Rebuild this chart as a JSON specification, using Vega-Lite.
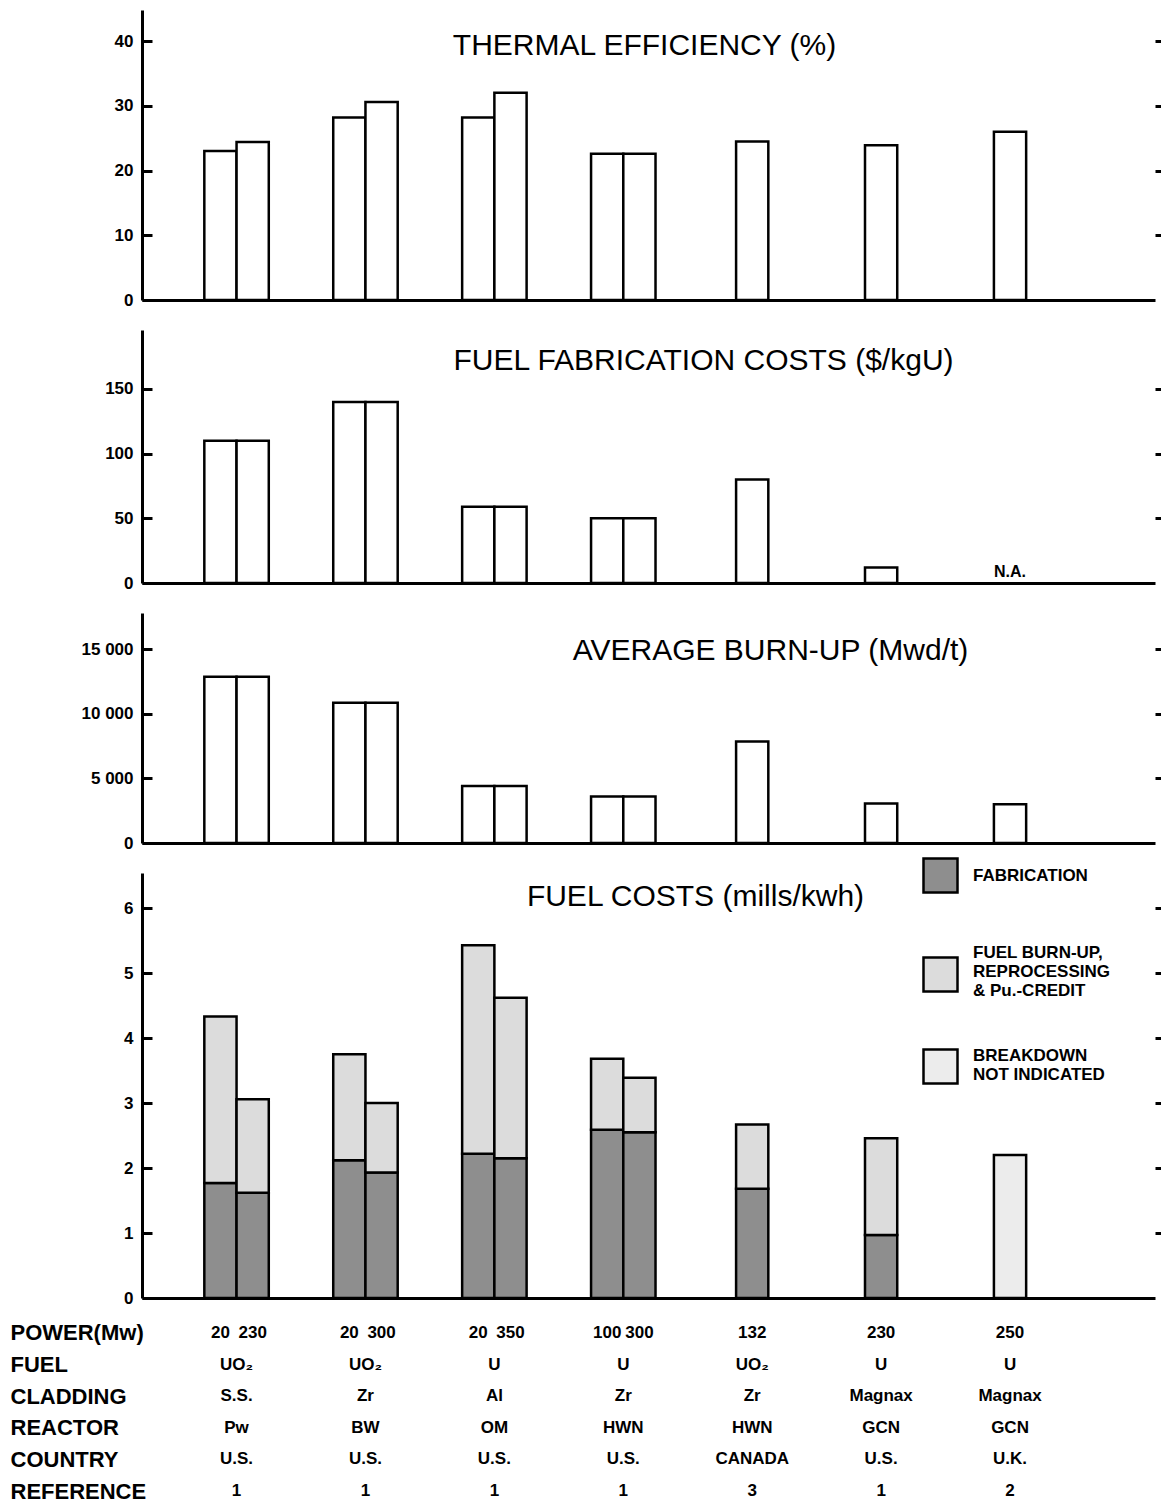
{
  "$schema": "https://vega.github.io/schema/vega-lite/v6.json",
  "padding": {"left": 5, "top": 10, "right": 0, "bottom": 0},
  "background": "white",
  "spacing": 30,
  "bounds": "flush",
  "resolve": {"legend": {"fill": "independent"}},
  "config": {
    "view": {"stroke": null},
    "font": "Liberation Sans",
    "title": {"font": "Liberation Sans", "fontSize": 30, "fontWeight": "normal", "color": "black", "baseline": "middle", "frame": "group", "anchor": "middle"},
    "axisY": {"grid": false}
  },
  "vconcat": [
    {
      "width": 1013,
      "height": 290,
      "title": {"text": "THERMAL EFFICIENCY (%)", "offset": -51, "dx": -4},
      "data": {"values": [
        {"g": "G1", "s": "L", "v": 23.0}, {"g": "G1", "s": "R", "v": 24.4},
        {"g": "G2", "s": "L", "v": 28.2}, {"g": "G2", "s": "R", "v": 30.6},
        {"g": "G3", "s": "L", "v": 28.2}, {"g": "G3", "s": "R", "v": 32.0},
        {"g": "G4", "s": "L", "v": 22.6}, {"g": "G4", "s": "R", "v": 22.6},
        {"g": "G5", "s": "C", "v": 24.5}, {"g": "G6", "s": "C", "v": 23.9}, {"g": "G7", "s": "C", "v": 26.0}
      ]},
      "layer": [
        {
          "transform": [{"filter": "datum.s != 'C'"}],
          "mark": {"type": "bar", "fill": "white", "stroke": "black", "strokeWidth": 2.5},
          "encoding": {
            "x": {"field": "g", "type": "nominal", "scale": {"domain": ["G1","G2","G3","G4","G5","G6","G7"], "paddingInner": 0.5, "paddingOuter": 0.679, "align": 0.356}, "axis": {"domain": true, "domainWidth": 3, "domainColor": "black", "ticks": false, "labels": false, "title": null, "grid": false}},
            "xOffset": {"field": "s", "type": "nominal", "scale": {"domain": ["L","R"], "paddingInner": 0, "paddingOuter": 0}},
            "y": {"field": "v", "type": "quantitative", "scale": {"domain": [0, 44.8], "nice": false}, "axis": {"orient": "left", "values": [0,10,20,30,40], "title": null, "domainWidth": 3, "domainColor": "black", "tickColor": "black", "tickWidth": 3, "tickSize": -10, "labelPadding": 19, "labelFont": "Liberation Sans", "labelFontWeight": "bold", "labelFontSize": 17, "labelColor": "black", "minExtent": 137, "maxExtent": 137}}
          }
        },
        {
          "transform": [{"filter": "datum.s == 'C'"}],
          "mark": {"type": "bar", "fill": "white", "stroke": "black", "strokeWidth": 2.5, "width": {"band": 0.5}},
          "encoding": {
            "x": {"field": "g", "type": "nominal"},
            "y": {"field": "v", "type": "quantitative", "axis": {"orient": "right", "values": [10,20,30,40], "title": null, "domain": false, "labels": false, "tickColor": "black", "tickWidth": 3, "tickSize": 6}}
          }
        }
      ],
      "resolve": {"axis": {"y": "independent"}}
    },
    {
      "width": 1013,
      "height": 253,
      "title": {"text": "FUEL FABRICATION COSTS ($/kgU)", "offset": -46, "dx": 55},
      "layer": [
        {
          "data": {"values": [
            {"g": "G1", "s": "L", "v": 110}, {"g": "G1", "s": "R", "v": 110},
            {"g": "G2", "s": "L", "v": 140}, {"g": "G2", "s": "R", "v": 140},
            {"g": "G3", "s": "L", "v": 59}, {"g": "G3", "s": "R", "v": 59},
            {"g": "G4", "s": "L", "v": 50}, {"g": "G4", "s": "R", "v": 50}
          ]},
          "mark": {"type": "bar", "fill": "white", "stroke": "black", "strokeWidth": 2.5},
          "encoding": {
            "x": {"field": "g", "type": "nominal", "scale": {"domain": ["G1","G2","G3","G4","G5","G6","G7"], "paddingInner": 0.5, "paddingOuter": 0.679, "align": 0.356}, "axis": {"domain": true, "domainWidth": 3, "domainColor": "black", "ticks": false, "labels": false, "title": null, "grid": false}},
            "xOffset": {"field": "s", "type": "nominal", "scale": {"domain": ["L","R"], "paddingInner": 0, "paddingOuter": 0}},
            "y": {"field": "v", "type": "quantitative", "scale": {"domain": [0, 195.6], "nice": false}, "axis": {"orient": "left", "values": [0,50,100,150], "title": null, "domainWidth": 3, "domainColor": "black", "tickColor": "black", "tickWidth": 3, "tickSize": -10, "labelPadding": 19, "labelFont": "Liberation Sans", "labelFontWeight": "bold", "labelFontSize": 17, "labelColor": "black", "minExtent": 137, "maxExtent": 137}}
          }
        },
        {
          "data": {"values": [
            {"g": "G5", "s": "C", "v": 80}, {"g": "G6", "s": "C", "v": 12}
          ]},
          "mark": {"type": "bar", "fill": "white", "stroke": "black", "strokeWidth": 2.5, "width": {"band": 0.5}},
          "encoding": {
            "x": {"field": "g", "type": "nominal"},
            "y": {"field": "v", "type": "quantitative", "axis": {"orient": "right", "values": [50,100,150], "title": null, "domain": false, "labels": false, "tickColor": "black", "tickWidth": 3, "tickSize": 6}}
          }
        },
        {
          "data": {"values": [{"g": "G7", "v": 0, "t": "N.A."}]},
          "mark": {"type": "text", "font": "Liberation Sans", "fontWeight": "bold", "fontSize": 16, "color": "black", "dy": -11},
          "encoding": {
            "x": {"field": "g", "type": "nominal"},
            "y": {"field": "v", "type": "quantitative", "axis": null},
            "text": {"field": "t"}
          }
        }
      ],
      "resolve": {"axis": {"y": "independent"}}
    },
    {
      "width": 1013,
      "height": 230,
      "title": {"text": "AVERAGE BURN-UP (Mwd/t)", "offset": -53, "dx": 122},
      "data": {"values": [
        {"g": "G1", "s": "L", "v": 12850}, {"g": "G1", "s": "R", "v": 12850},
        {"g": "G2", "s": "L", "v": 10850}, {"g": "G2", "s": "R", "v": 10850},
        {"g": "G3", "s": "L", "v": 4400}, {"g": "G3", "s": "R", "v": 4400},
        {"g": "G4", "s": "L", "v": 3600}, {"g": "G4", "s": "R", "v": 3600},
        {"g": "G5", "s": "C", "v": 7850}, {"g": "G6", "s": "C", "v": 3050}, {"g": "G7", "s": "C", "v": 3000}
      ]},
      "layer": [
        {
          "transform": [{"filter": "datum.s != 'C'"}],
          "mark": {"type": "bar", "fill": "white", "stroke": "black", "strokeWidth": 2.5},
          "encoding": {
            "x": {"field": "g", "type": "nominal", "scale": {"domain": ["G1","G2","G3","G4","G5","G6","G7"], "paddingInner": 0.5, "paddingOuter": 0.679, "align": 0.356}, "axis": {"domain": true, "domainWidth": 3, "domainColor": "black", "ticks": false, "labels": false, "title": null, "grid": false}},
            "xOffset": {"field": "s", "type": "nominal", "scale": {"domain": ["L","R"], "paddingInner": 0, "paddingOuter": 0}},
            "y": {"field": "v", "type": "quantitative", "scale": {"domain": [0, 17784], "nice": false}, "axis": {"orient": "left", "values": [0,5000,10000,15000], "labelExpr": "replace(format(datum.value, ','), ',', ' ')", "title": null, "domainWidth": 3, "domainColor": "black", "tickColor": "black", "tickWidth": 3, "tickSize": -10, "labelPadding": 19, "labelFont": "Liberation Sans", "labelFontWeight": "bold", "labelFontSize": 17, "labelColor": "black", "minExtent": 137, "maxExtent": 137}}
          }
        },
        {
          "transform": [{"filter": "datum.s == 'C'"}],
          "mark": {"type": "bar", "fill": "white", "stroke": "black", "strokeWidth": 2.5, "width": {"band": 0.5}},
          "encoding": {
            "x": {"field": "g", "type": "nominal"},
            "y": {"field": "v", "type": "quantitative", "axis": {"orient": "right", "values": [5000,10000,15000], "title": null, "domain": false, "labels": false, "tickColor": "black", "tickWidth": 3, "tickSize": 6}}
          }
        }
      ],
      "resolve": {"axis": {"y": "independent"}}
    },
    {
      "width": 1013,
      "height": 425,
      "title": {"text": "FUEL COSTS (mills/kwh)", "offset": -55, "dx": 47},
      "data": {"values": [
        {"g": "G1", "s": "L", "p": "fab", "v": 1.77}, {"g": "G1", "s": "L", "p": "burn", "v": 2.56},
        {"g": "G1", "s": "R", "p": "fab", "v": 1.62}, {"g": "G1", "s": "R", "p": "burn", "v": 1.44},
        {"g": "G2", "s": "L", "p": "fab", "v": 2.12}, {"g": "G2", "s": "L", "p": "burn", "v": 1.63},
        {"g": "G2", "s": "R", "p": "fab", "v": 1.93}, {"g": "G2", "s": "R", "p": "burn", "v": 1.07},
        {"g": "G3", "s": "L", "p": "fab", "v": 2.22}, {"g": "G3", "s": "L", "p": "burn", "v": 3.21},
        {"g": "G3", "s": "R", "p": "fab", "v": 2.15}, {"g": "G3", "s": "R", "p": "burn", "v": 2.47},
        {"g": "G4", "s": "L", "p": "fab", "v": 2.59}, {"g": "G4", "s": "L", "p": "burn", "v": 1.09},
        {"g": "G4", "s": "R", "p": "fab", "v": 2.55}, {"g": "G4", "s": "R", "p": "burn", "v": 0.84},
        {"g": "G5", "s": "C", "p": "fab", "v": 1.68}, {"g": "G5", "s": "C", "p": "burn", "v": 0.99},
        {"g": "G6", "s": "C", "p": "fab", "v": 0.97}, {"g": "G6", "s": "C", "p": "burn", "v": 1.49},
        {"g": "G7", "s": "C", "p": "nd", "v": 2.2}
      ]},
      "layer": [
        {
          "transform": [{"filter": "datum.s != 'C'"}],
          "mark": {"type": "bar", "stroke": "black", "strokeWidth": 2.5},
          "encoding": {
            "x": {"field": "g", "type": "nominal", "scale": {"domain": ["G1","G2","G3","G4","G5","G6","G7"], "paddingInner": 0.5, "paddingOuter": 0.679, "align": 0.356}, "axis": {"domain": true, "domainWidth": 3, "domainColor": "black", "ticks": false, "labels": false, "title": null, "grid": false}},
            "xOffset": {"field": "s", "type": "nominal", "scale": {"domain": ["L","R"], "paddingInner": 0, "paddingOuter": 0}},
            "y": {"field": "v", "type": "quantitative", "stack": "zero", "scale": {"domain": [0, 6.54], "nice": false}, "axis": {"orient": "left", "values": [0,1,2,3,4,5,6], "title": null, "domainWidth": 3, "domainColor": "black", "tickColor": "black", "tickWidth": 3, "tickSize": -10, "labelPadding": 19, "labelFont": "Liberation Sans", "labelFontWeight": "bold", "labelFontSize": 17, "labelColor": "black", "minExtent": 137, "maxExtent": 137}},
            "order": {"field": "p", "sort": "descending"},
            "fill": {"field": "p", "type": "nominal", "scale": {"domain": ["fab", "burn", "nd"], "range": ["#8e8e8e", "#dcdcdc", "#ececec"]},
              "legend": {"orient": "none", "legendX": 780, "legendY": -16, "title": null, "padding": 0, "symbolType": "square", "symbolSize": 1156, "symbolStrokeColor": "black", "symbolStrokeWidth": 2.5, "labelFont": "Liberation Sans", "labelFontWeight": "bold", "labelFontSize": 17, "labelColor": "black", "labelOffset": 14, "labelLimit": 0, "labelLineHeight": 22, "rowPadding": 45,
                "labelExpr": "datum.value == 'fab' ? 'FABRICATION' : datum.value == 'burn' ? ['FUEL BURN-UP,', 'REPROCESSING', '& Pu.-CREDIT'] : ['BREAKDOWN', 'NOT INDICATED']",
                "encode": {"labels": {"update": {"dy": {"signal": "datum.value == 'burn' ? -22 : datum.value == 'nd' ? -11 : 0"}}}}}}
          }
        },
        {
          "transform": [{"filter": "datum.s == 'C'"}],
          "mark": {"type": "bar", "stroke": "black", "strokeWidth": 2.5, "width": {"band": 0.5}},
          "encoding": {
            "x": {"field": "g", "type": "nominal"},
            "y": {"field": "v", "type": "quantitative", "stack": "zero", "axis": {"orient": "right", "values": [1,2,3,4,5,6], "title": null, "domain": false, "labels": false, "tickColor": "black", "tickWidth": 3, "tickSize": 6}},
            "order": {"field": "p", "sort": "descending"},
            "fill": {"field": "p", "type": "nominal"}
          }
        }
      ],
      "resolve": {"axis": {"y": "independent"}}
    },
    {
      "width": 1013,
      "height": 168,
      "data": {"values": [
        {"g": "G1", "s": "L", "r": "POWER(Mw)", "t": "20"}, {"g": "G1", "s": "R", "r": "POWER(Mw)", "t": "230"},
        {"g": "G2", "s": "L", "r": "POWER(Mw)", "t": "20"}, {"g": "G2", "s": "R", "r": "POWER(Mw)", "t": "300"},
        {"g": "G3", "s": "L", "r": "POWER(Mw)", "t": "20"}, {"g": "G3", "s": "R", "r": "POWER(Mw)", "t": "350"},
        {"g": "G4", "s": "L", "r": "POWER(Mw)", "t": "100"}, {"g": "G4", "s": "R", "r": "POWER(Mw)", "t": "300"},
        {"g": "G5", "s": "C", "r": "POWER(Mw)", "t": "132"}, {"g": "G6", "s": "C", "r": "POWER(Mw)", "t": "230"}, {"g": "G7", "s": "C", "r": "POWER(Mw)", "t": "250"},
        {"g": "G1", "s": "C", "r": "FUEL", "t": "UO₂"}, {"g": "G2", "s": "C", "r": "FUEL", "t": "UO₂"}, {"g": "G3", "s": "C", "r": "FUEL", "t": "U"}, {"g": "G4", "s": "C", "r": "FUEL", "t": "U"}, {"g": "G5", "s": "C", "r": "FUEL", "t": "UO₂"}, {"g": "G6", "s": "C", "r": "FUEL", "t": "U"}, {"g": "G7", "s": "C", "r": "FUEL", "t": "U"},
        {"g": "G1", "s": "C", "r": "CLADDING", "t": "S.S."}, {"g": "G2", "s": "C", "r": "CLADDING", "t": "Zr"}, {"g": "G3", "s": "C", "r": "CLADDING", "t": "Al"}, {"g": "G4", "s": "C", "r": "CLADDING", "t": "Zr"}, {"g": "G5", "s": "C", "r": "CLADDING", "t": "Zr"}, {"g": "G6", "s": "C", "r": "CLADDING", "t": "Magnax"}, {"g": "G7", "s": "C", "r": "CLADDING", "t": "Magnax"},
        {"g": "G1", "s": "C", "r": "REACTOR", "t": "Pw"}, {"g": "G2", "s": "C", "r": "REACTOR", "t": "BW"}, {"g": "G3", "s": "C", "r": "REACTOR", "t": "OM"}, {"g": "G4", "s": "C", "r": "REACTOR", "t": "HWN"}, {"g": "G5", "s": "C", "r": "REACTOR", "t": "HWN"}, {"g": "G6", "s": "C", "r": "REACTOR", "t": "GCN"}, {"g": "G7", "s": "C", "r": "REACTOR", "t": "GCN"},
        {"g": "G1", "s": "C", "r": "COUNTRY", "t": "U.S."}, {"g": "G2", "s": "C", "r": "COUNTRY", "t": "U.S."}, {"g": "G3", "s": "C", "r": "COUNTRY", "t": "U.S."}, {"g": "G4", "s": "C", "r": "COUNTRY", "t": "U.S."}, {"g": "G5", "s": "C", "r": "COUNTRY", "t": "CANADA"}, {"g": "G6", "s": "C", "r": "COUNTRY", "t": "U.S."}, {"g": "G7", "s": "C", "r": "COUNTRY", "t": "U.K."},
        {"g": "G1", "s": "C", "r": "REFERENCE", "t": "1"}, {"g": "G2", "s": "C", "r": "REFERENCE", "t": "1"}, {"g": "G3", "s": "C", "r": "REFERENCE", "t": "1"}, {"g": "G4", "s": "C", "r": "REFERENCE", "t": "1"}, {"g": "G5", "s": "C", "r": "REFERENCE", "t": "3"}, {"g": "G6", "s": "C", "r": "REFERENCE", "t": "1"}, {"g": "G7", "s": "C", "r": "REFERENCE", "t": "2"}
      ]},
      "layer": [
        {
          "transform": [{"filter": "datum.s != 'C'"}],
          "mark": {"type": "text", "font": "Liberation Sans", "fontWeight": "bold", "fontSize": 17, "color": "black", "baseline": "middle"},
          "encoding": {
            "x": {"field": "g", "type": "nominal", "scale": {"domain": ["G1","G2","G3","G4","G5","G6","G7"], "paddingInner": 0.5, "paddingOuter": 0.679, "align": 0.356}, "axis": null},
            "xOffset": {"field": "s", "type": "nominal", "scale": {"domain": ["L","R"], "paddingInner": 0, "paddingOuter": 0}},
            "y": {"field": "r", "type": "nominal", "scale": {"type": "point", "domain": ["POWER(Mw)","FUEL","CLADDING","REACTOR","COUNTRY","REFERENCE"], "padding": 0.158}, "axis": {"title": null, "domain": false, "ticks": false, "labelAlign": "left", "labelBaseline": "middle", "labelPadding": 132, "labelFont": "Liberation Sans", "labelFontWeight": "bold", "labelFontSize": 22, "labelColor": "black", "minExtent": 137, "maxExtent": 137}},
            "text": {"field": "t"}
          }
        },
        {
          "transform": [{"filter": "datum.s == 'C'"}],
          "mark": {"type": "text", "font": "Liberation Sans", "fontWeight": "bold", "fontSize": 17, "color": "black", "baseline": "middle"},
          "encoding": {
            "x": {"field": "g", "type": "nominal"},
            "y": {"field": "r", "type": "nominal"},
            "text": {"field": "t"}
          }
        }
      ]
    }
  ]
}
